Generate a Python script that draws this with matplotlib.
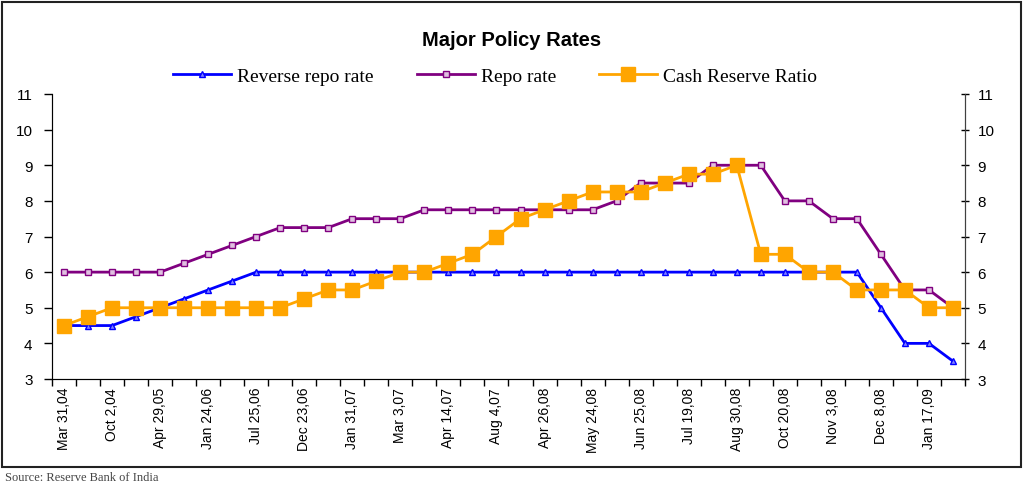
import matplotlib
matplotlib.use("Agg")
import matplotlib.pyplot as plt
import matplotlib.transforms as mtransforms
from matplotlib.patches import Rectangle

# tick labels (every second point is labelled)
labels = ["Mar 31,04", "Oct 2,04", "Apr 29,05", "Jan 24,06", "Jul 25,06",
          "Dec 23,06", "Jan 31,07", "Mar 3,07", "Apr 14,07", "Aug 4,07",
          "Apr 26,08", "May 24,08", "Jun 25,08", "Jul 19,08", "Aug 30,08",
          "Oct 20,08", "Nov 3,08", "Dec 8,08", "Jan 17,09"]

reverse_repo = [4.5, 4.5, 4.5, 4.75, 5.0, 5.25, 5.5, 5.75, 6.0, 6.0,
                6.0, 6.0, 6.0, 6.0, 6.0, 6.0, 6.0, 6.0, 6.0, 6.0,
                6.0, 6.0, 6.0, 6.0, 6.0, 6.0, 6.0, 6.0, 6.0, 6.0,
                6.0, 6.0, 6.0, 6.0, 5.0, 4.0, 4.0, 3.5]
repo = [6.0, 6.0, 6.0, 6.0, 6.0, 6.25, 6.5, 6.75, 7.0, 7.25,
        7.25, 7.25, 7.5, 7.5, 7.5, 7.75, 7.75, 7.75, 7.75, 7.75,
        7.75, 7.75, 7.75, 8.0, 8.5, 8.5, 8.5, 9.0, 9.0, 9.0,
        8.0, 8.0, 7.5, 7.5, 6.5, 5.5, 5.5, 5.0]
crr = [4.5, 4.75, 5.0, 5.0, 5.0, 5.0, 5.0, 5.0, 5.0, 5.0,
       5.25, 5.5, 5.5, 5.75, 6.0, 6.0, 6.25, 6.5, 7.0, 7.5,
       7.75, 8.0, 8.25, 8.25, 8.25, 8.5, 8.75, 8.75, 9.0, 6.5,
       6.5, 6.0, 6.0, 5.5, 5.5, 5.5, 5.0, 5.0]

n = len(repo)
x = list(range(n))

fig = plt.figure(figsize=(10.24, 4.85), dpi=100)
ax = fig.add_axes([52/1024, 1 - 380/485, (965-52)/1024, (380-95)/485])

ax.plot(x, reverse_repo, color="#0000ff", lw=2, marker="^", ms=5,
        mfc="#8080ff", mec="#0000ff", mew=1, label="Reverse repo rate")
ax.plot(x, repo, color="#800080", lw=2, marker="s", ms=4.5,
        mfc="#e0c0e0", mec="#800080", mew=1, label="Repo rate")
ax.plot(x, crr, color="#ffa500", lw=2, marker="s", ms=10,
        mfc="#ffa500", mec="#ffa500", label="Cash Reserve Ratio")

ax.set_xlim(-0.5, n - 0.5)
ax.set_ylim(3, 11)
ax.set_yticks(range(3, 12))
ax.tick_params(axis="y", labelsize=11, length=6, width=1, direction="out", pad=8)
for t in ax.get_yticklabels():
    t.set_fontfamily("Liberation Sans")

# x ticks on category boundaries, labels centred on every second point
ax.set_xticks([i - 0.5 for i in range(n + 1)])
ax.set_xticklabels([])
ax.tick_params(axis="x", length=5, width=1, direction="out")
trans = mtransforms.blended_transform_factory(ax.transData, ax.transAxes)
for k, lab in enumerate(labels):
    ax.text(2 * k, -8/285, lab, rotation=90, ha="center", va="top",
            fontsize=10, family="Liberation Sans", transform=trans, clip_on=False)

ax.spines["top"].set_visible(False)
for s in ["left", "right", "bottom"]:
    ax.spines[s].set_color("#404040")

ax2 = ax.twinx()
ax2.set_ylim(3, 11)
ax2.set_yticks(range(3, 12))
ax2.tick_params(axis="y", labelsize=11, length=6, width=1, direction="inout", pad=6)
for t in ax2.get_yticklabels():
    t.set_fontfamily("Liberation Sans")
ax2.spines["top"].set_visible(False)
ax2.spines["right"].set_color("#404040")

fig.text(0.5, 1 - 40/485, "Major Policy Rates", ha="center", va="center",
         fontsize=14.5, fontweight="bold", family="Liberation Sans")
fig.legend(loc="center", bbox_to_anchor=(495/1024, 1 - 77/485), ncol=3,
           frameon=False, prop={"family": "Liberation Serif", "size": 14},
           handlelength=3.0, columnspacing=2.2, handletextpad=0.3)

fig.patches.append(Rectangle((2/1024, 1 - 468/485), 1019/1024, 465/485,
                             transform=fig.transFigure, fill=False,
                             ec="#222222", lw=1.5))
fig.text(5/1024, 1/485, "Source: Reserve Bank of India", ha="left", va="bottom",
         fontsize=9, family="Liberation Serif", color="#444444")

fig.savefig("out.png", dpi=100)
